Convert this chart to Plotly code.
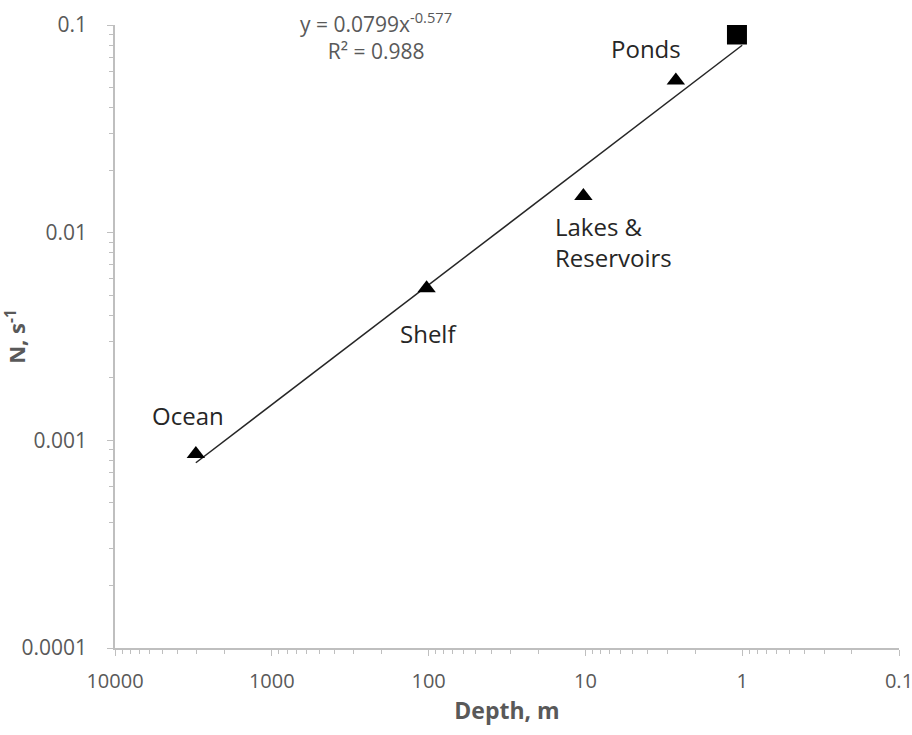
import plotly.graph_objects as go
import numpy as np

# Data
site_names = ["Ocean", "Shelf", "Lakes &<br>Reservoirs", "Ponds"]
site_depth = [3050, 103, 10.3, 2.65]
site_n = [0.00086, 0.0054, 0.0150, 0.054]

square_depth = [1.08]
square_n = [0.090]

fit_a = 0.0799
fit_b = -0.577
fit_r2 = 0.988
fit_x_range = [3050, 1.0]

x_tickvals = [10000, 1000, 100, 10, 1, 0.1]
x_ticktext = ["10000", "1000", "100", "10", "1", "0.1"]
y_tickvals = [0.0001, 0.001, 0.01, 0.1]
y_ticktext = ["0.0001", "0.001", "0.01", "0.1"]

FONT = "Open Sans"
GRAY = "#595959"
AX = "#bfbfbf"

x_minor = [m * 10.0 ** e for e in range(-1, 4) for m in range(2, 10)]
y_minor = [m * 10.0 ** e for e in range(-4, -1) for m in range(2, 10)]

fit_x = np.logspace(np.log10(fit_x_range[0]), np.log10(fit_x_range[1]), 50)
fit_y = fit_a * fit_x ** fit_b

fig = go.Figure()
fig.add_trace(go.Scatter(x=fit_x, y=fit_y, mode="lines",
                         line=dict(color="#262626", width=1.5), showlegend=False,
                         hoverinfo="skip"))
fig.add_trace(go.Scatter(x=site_depth, y=site_n, mode="markers",
                         marker=dict(symbol="triangle-up", size=16, color="black"),
                         showlegend=False))
fig.add_trace(go.Scatter(x=square_depth, y=square_n, mode="markers",
                         marker=dict(symbol="square", size=20, color="black"),
                         showlegend=False))

# label offsets (pixels) relative to each point
offsets = [(-8, -38), (2, 45), (-30, 46), (-30, -32)]
anchors = ["center", "center", "left", "center"]
for name, x, y, (dx, dy), an in zip(site_names, site_depth, site_n, offsets, anchors):
    fig.add_annotation(x=np.log10(x), y=np.log10(y), text=name, showarrow=False,
                       xshift=dx, yshift=-dy, align="left" if an == "left" else "center",
                       xanchor=an,
                       font=dict(family=FONT, size=24, color="#262626"))

fig.add_annotation(xref="paper", yref="paper", x=0.233, y=0.982,
                   text=f"y = {fit_a}x<sup>{fit_b}</sup><br>R² = {fit_r2}",
                   showarrow=False, align="center", yanchor="middle",
                   font=dict(family=FONT, size=21, color=GRAY))

fig.update_xaxes(type="log", range=[4, -1], tickvals=x_tickvals, ticktext=x_ticktext,
                 showgrid=False, zeroline=False, showline=True, linecolor=AX, linewidth=1.5,
                 ticks="outside", ticklen=6, tickcolor=AX, automargin=False,
                 ticklabelstandoff=8, ticklabeloverflow="allow",
                 minor=dict(ticks="outside", ticklen=4, tickcolor=AX, showgrid=False,
                            tickmode="array", tickvals=x_minor),
                 tickfont=dict(family=FONT, size=20, color=GRAY),
                 title=dict(text="Depth, m", font=dict(family=FONT, size=23, color=GRAY, weight="bold"),
                            standoff=10))
fig.update_yaxes(type="log", range=[-4, -1], tickvals=y_tickvals, ticktext=y_ticktext,
                 showgrid=False, zeroline=False, showline=True, linecolor=AX, linewidth=1.5,
                 ticks="outside", ticklen=6, tickcolor=AX, automargin=False,
                 ticklabelstandoff=16, ticklabeloverflow="allow",
                 minor=dict(ticks="outside", ticklen=4, tickcolor=AX, showgrid=False,
                            tickmode="array", tickvals=y_minor),
                 tickfont=dict(family=FONT, size=21, color=GRAY),
                 title=dict(text="N, s<sup>-1</sup>", font=dict(family=FONT, size=22, color=GRAY, weight="bold"),
                            standoff=14))

fig.update_layout(width=912, height=735, plot_bgcolor="white", paper_bgcolor="white",
                  margin=dict(l=115, r=13, t=25, b=87))
fig.write_html("out.html")
